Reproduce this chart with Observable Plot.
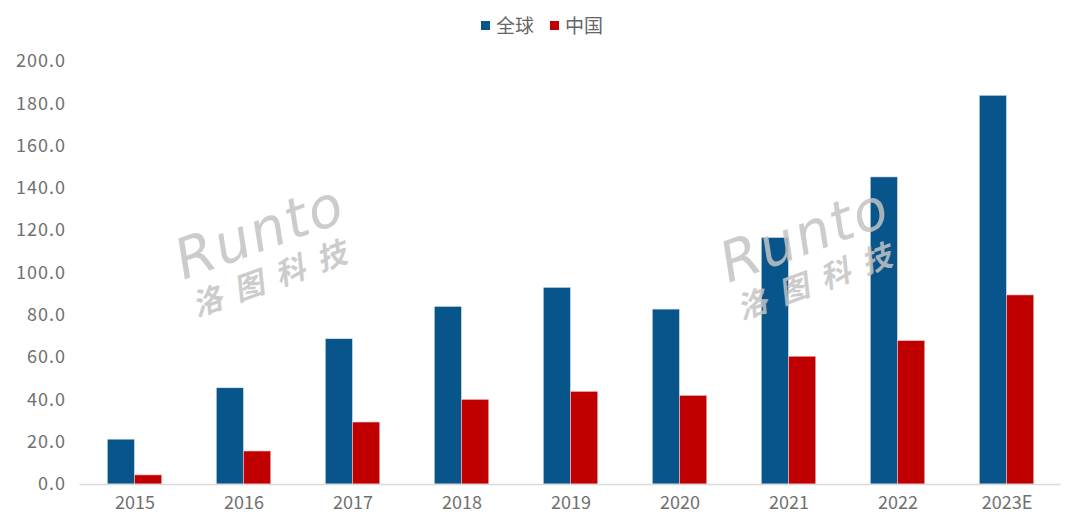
<!DOCTYPE html>
<html><head><meta charset="utf-8">
<script src="https://cdn.jsdelivr.net/npm/d3@7"></script>
<script src="https://cdn.jsdelivr.net/npm/@observablehq/plot@0.6"></script>
<style>
body{margin:0;background:#fff;font-family:"Noto Sans CJK SC","Noto Sans",sans-serif;}
#wrap{position:relative;width:1080px;height:529px;overflow:hidden;}
#legend{height:40px;position:relative;}
.lg{position:absolute;top:13px;font-size:19px;line-height:24px;color:#666;display:flex;align-items:center;}
.sw{display:inline-block;width:9px;height:9px;margin-right:6px;}
.wm{position:absolute;color:#c4c4c4;transform:rotate(-20deg);transform-origin:center;text-align:center;pointer-events:none;opacity:0.85;}
.wm .en{font-family:"DejaVu Sans";font-size:56px;font-style:italic;letter-spacing:2px;line-height:56px;}
.wm .zh{font-family:"Noto Sans CJK SC";font-weight:bold;font-size:30px;letter-spacing:14px;line-height:34px;font-style:italic;}
svg text{font-family:"Noto Sans CJK SC",sans-serif;}
</style></head>
<body>
<div id="wrap">
<div id="legend"></div>
<div id="chart"></div>
<div class="wm" style="left:158px;top:203px;width:215px;"><div class="en">Runto</div><div class="zh">洛图科技</div></div>
<div class="wm" style="left:703px;top:206px;width:215px;"><div class="en">Runto</div><div class="zh">洛图科技</div></div>
</div>
<script>
const years = ["2015","2016","2017","2018","2019","2020","2021","2022","2023E"];
const seriesNames = ["全球","中国"];
const globalValues = [21.2, 45.5, 68.7, 84.0, 93.0, 82.7, 116.6, 145.2, 183.8];
const chinaValues = [4.3, 15.6, 29.3, 40.0, 43.8, 41.9, 60.4, 67.8, 89.4];
const colors = ["#07558A", "#C00000"];
const yTicks = [0,20,40,60,80,100,120,140,160,180,200];

const globalData = years.map((y,i)=>({year:y, series:seriesNames[0], value:globalValues[i]}));
const chinaData = years.map((y,i)=>({year:y, series:seriesNames[1], value:chinaValues[i]}));

// legend
const lg = document.getElementById("legend");
const lgPos = [481, 550];
seriesNames.forEach((s,i)=>{
  const d = document.createElement("div");
  d.className = "lg";
  d.style.left = lgPos[i] + "px";
  d.innerHTML = `<span class="sw" style="background:${colors[i]}"></span>${s}`;
  lg.appendChild(d);
});

const band = (1080 - 79.5 - 19.5) / years.length;
const chart = Plot.plot({
  width: 1080,
  height: 489,
  marginLeft: 79.5,
  marginRight: 19.5,
  marginTop: 21,
  marginBottom: 45,
  style: {fontSize: "18px", color: "#707070", background: "#fff"},
  x: {domain: years, padding: 0, label: null, tickSize: 0, tickPadding: 12},
  y: {domain: [0, 200], ticks: yTicks, tickFormat: d3.format(".1f"), label: null, tickSize: 0, tickPadding: 14},
  color: {domain: seriesNames, range: colors},
  marks: [
    Plot.barY(globalData, {x: "year", y: "value", fill: "series", stroke: "#dfe8f0", strokeWidth: 0.6,
      insetLeft: band * 0.25, insetRight: band * 0.5}),
    Plot.barY(chinaData, {x: "year", y: "value", fill: "series", stroke: "#f0c8c8", strokeWidth: 0.6,
      insetLeft: band * 0.5, insetRight: band * 0.25}),
    Plot.ruleY([0], {stroke: "#d9d9d9", strokeWidth: 1.5})
  ]
});
chart.querySelectorAll("g[aria-label='y-axis tick label'] text").forEach(t=>t.setAttribute("letter-spacing","1"));
document.getElementById("chart").appendChild(chart);
</script>
</body></html>
